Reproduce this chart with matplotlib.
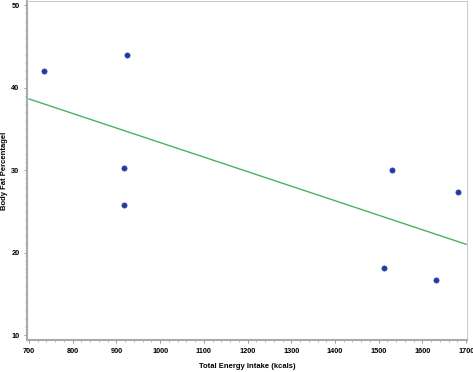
import numpy as np
import matplotlib
matplotlib.use("Agg")
import matplotlib.pyplot as plt
from matplotlib.ticker import MultipleLocator

energy = [734, 924, 917, 917, 1530, 1681, 1511, 1630]
bodyfat = [42.0, 44.0, 30.2, 25.8, 30.0, 27.4, 18.1, 16.7]
xticks = [700, 800, 900, 1000, 1100, 1200, 1300, 1400, 1500, 1600, 1700]
yticks = [10, 20, 30, 40, 50]

plt.rcParams['font.family'] = ['Liberation Sans', 'DejaVu Sans']

fig = plt.figure(figsize=(4.73, 3.72), dpi=100)
ax = fig.add_axes([27/473, 1 - 340/372, 440/473, 339/372])

slope, intercept = np.polyfit(energy, bodyfat, 1)
lx = np.array([700, 1700])
ax.plot(lx, slope * lx + intercept, color='#4cb35c', lw=1.0, zorder=2)
ax.scatter(energy, bodyfat, s=14, color='#223a9c', edgecolors='#2b45b0', linewidths=0.5, zorder=3)

ax.set_xlim(695.4, 1702)
ax.set_ylim(9.4, 50.5)
ax.set_xticks(xticks)
ax.set_yticks(yticks)
ax.xaxis.set_minor_locator(MultipleLocator(20))
ax.yaxis.set_minor_locator(MultipleLocator(1))
ax.tick_params(which='major', length=2.5, width=0.6, color='#888888', labelsize=5.3, pad=3)
ax.tick_params(which='minor', length=1.5, width=0.5, color='#999999')
for lab in ax.get_xticklabels() + ax.get_yticklabels():
    lab.set_fontweight('bold')

for side in ['left', 'bottom']:
    ax.spines[side].set_color('#aaaaaa')
    ax.spines[side].set_linewidth(1.5)
for side in ['top', 'right']:
    ax.spines[side].set_color('#cccccc')
    ax.spines[side].set_linewidth(0.8)

ax.set_xlabel('Total Energy Intake (kcals)', fontsize=5.5, fontweight='bold')
ax.set_ylabel('Body Fat Percentagel', fontsize=5.5, fontweight='bold')
ax.xaxis.set_label_coords(0.5, -27/339)
ax.yaxis.set_label_coords(-22/440, 0.5)
ax.xaxis.label.set_va('center')
ax.yaxis.label.set_va('center')

fig.savefig('out.png', dpi=100)
